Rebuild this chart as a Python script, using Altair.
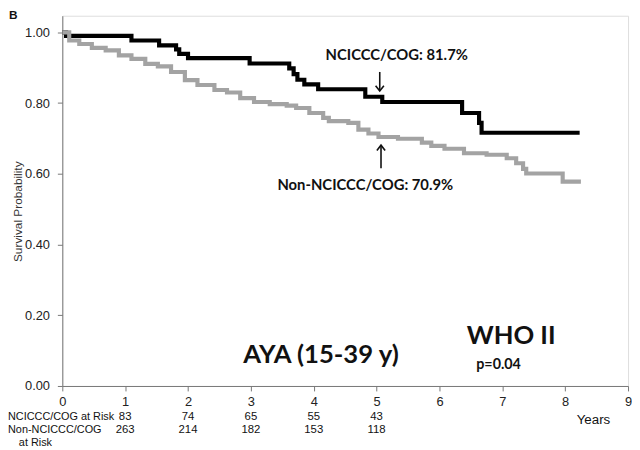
import altair as alt
import pandas as pd

# NCICCC/COG Kaplan-Meier steps
nci_t = [0, 0.06, 1.10, 1.54, 1.81, 1.86, 2.00, 2.98, 3.61, 3.68, 3.74, 3.85, 4.07, 4.82, 5.09, 6.36, 6.63, 6.67, 8.23]
nci_s = [1.00, 0.99, 0.977, 0.963, 0.952, 0.939, 0.927, 0.912, 0.898, 0.882, 0.866, 0.853, 0.839, 0.818, 0.803, 0.772, 0.744, 0.716, 0.716]

# Non-NCICCC/COG Kaplan-Meier steps
non_t = [0.00, 0.11, 0.27, 0.47, 0.69, 0.90, 1.10, 1.32, 1.52, 1.73, 1.95, 2.15, 2.42, 2.62, 2.83,
         3.05, 3.30, 3.57, 3.72, 3.93, 4.15, 4.24, 4.55, 4.71, 4.87, 5.03, 5.34, 5.72, 5.87, 6.08,
         6.39, 6.75, 7.07, 7.22, 7.33, 7.38, 7.92, 7.96, 8.25]
non_s = [1.000, 0.977, 0.967, 0.956, 0.949, 0.935, 0.925, 0.911, 0.904, 0.888, 0.865, 0.851, 0.837, 0.830, 0.814,
         0.803, 0.797, 0.793, 0.786, 0.772, 0.758, 0.749, 0.744, 0.725, 0.714, 0.704, 0.699, 0.688, 0.679, 0.671,
         0.658, 0.654, 0.644, 0.630, 0.614, 0.601, 0.601, 0.578, 0.578]

# Number at risk table
risk_years = [1, 2, 3, 4, 5]
risk_nci = ["83", "74", "65", "55", "43"]
risk_non = ["263", "214", "182", "153", "118"]

x_ticks = [0, 1, 2, 3, 4, 5, 6, 7, 8, 9]
y_ticks = [0.0, 0.2, 0.4, 0.6, 0.8, 1.0]

ANN_FONT = "Lato"
AX_FONT = "Liberation Sans"

xs = alt.Scale(domain=[0, 9], nice=False)
ys = alt.Scale(domain=[0, 1.047], nice=False)

curves = pd.concat([
    pd.DataFrame({"t": nci_t, "s": nci_s, "grp": "NCICCC/COG"}),
    pd.DataFrame({"t": non_t, "s": non_s, "grp": "Non-NCICCC/COG"}),
])

base = alt.Chart(curves).mark_line(interpolate="step-after", strokeWidth=4.2, strokeCap="butt").encode(
    x=alt.X("t:Q", scale=xs, title=None,
            axis=alt.Axis(values=x_ticks, format="d", grid=False, domainColor="#777", tickColor="#777",
                          tickSize=5, labelPadding=5, labelFont=AX_FONT, labelFontSize=13,
                          labelColor="#222", labelFlush=False)),
    y=alt.Y("s:Q", scale=ys,
            axis=alt.Axis(values=y_ticks, format=".2f", grid=False, domainColor="#777", tickColor="#777",
                          tickSize=5, labelPadding=8, labelFont=AX_FONT, labelFontSize=13,
                          labelColor="#222", title="Survival Probability", titleFont=AX_FONT,
                          titleFontSize=12, titleFontWeight="normal", titleColor="#333",
                          titleAngle=-90, titleX=-45, titleY=198, titleAlign="center",
                          titleBaseline="middle")),
    color=alt.Color("grp:N", scale=alt.Scale(domain=["NCICCC/COG", "Non-NCICCC/COG"],
                                             range=["#000000", "#a3a3a3"]), legend=None),
    order=alt.Order("grp:N", sort="descending"),
)


def txt(label, t, s, size, weight="bold", font=ANN_FONT, align="center", baseline="middle"):
    return alt.Chart(pd.DataFrame({"t": [t], "s": [s], "label": [label]})).mark_text(
        font=font, fontSize=size, fontWeight=weight, align=align, baseline=baseline, color="#111"
    ).encode(x=alt.X("t:Q", scale=xs), y=alt.Y("s:Q", scale=ys), text="label:N")


def ptxt(label, px, py, size, weight="normal", font=AX_FONT, align="left", baseline="middle"):
    return alt.Chart(pd.DataFrame({"label": [label]})).mark_text(
        font=font, fontSize=size, fontWeight=weight, align=align, baseline=baseline, color="#111"
    ).encode(x=alt.value(px), y=alt.value(py), text="label:N")


def arrow(t, s_from, s_tip, down=True):
    shaft = alt.Chart(pd.DataFrame({"t": [t], "a": [s_from], "b": [s_tip]})).mark_rule(
        color="#111", strokeWidth=1.6).encode(x=alt.X("t:Q", scale=xs), y=alt.Y("a:Q", scale=ys), y2="b:Q")
    shape = "M-1,-1.3L0,0L1,-1.3" if down else "M-1,1.3L0,0L1,1.3"
    head = alt.Chart(pd.DataFrame({"t": [t], "s": [s_tip]})).mark_point(
        shape=shape, size=70, filled=False, color="#111", strokeWidth=1.6, opacity=1
    ).encode(x=alt.X("t:Q", scale=xs), y=alt.Y("s:Q", scale=ys))
    return shaft + head


risk_df = pd.DataFrame({"t": risk_years, "n1": risk_nci, "n2": risk_non})
risk1 = alt.Chart(risk_df).mark_text(font=AX_FONT, fontSize=11.5, color="#111").encode(
    x=alt.X("t:Q", scale=xs), y=alt.value(406), text="n1:N")
risk2 = alt.Chart(risk_df).mark_text(font=AX_FONT, fontSize=11.5, color="#111").encode(
    x=alt.X("t:Q", scale=xs), y=alt.value(420), text="n2:N")

layers = [
    base,
    txt("NCICCC/COG: 81.7%", 5.32, 0.935, 15),
    arrow(5.05, 0.888, 0.834, down=True),
    txt("Non-NCICCC/COG: 70.9%", 4.82, 0.567, 15),
    arrow(5.07, 0.616, 0.681, down=False),
    txt("AYA (15-39 y)", 4.115, 0.087, 26),
    txt("WHO II", 7.14, 0.142, 26),
    txt("p=0.04", 6.94, 0.059, 14.5),
    ptxt("Years", 538, 410, 13.5, align="center"),
    ptxt("B", -54, 3, 12, weight="bold", baseline="alphabetic"),
    ptxt("NCICCC/COG at Risk", -55, 406, 11),
    ptxt("Non-NCICCC/COG", -55, 420, 11),
    ptxt("at Risk", -44, 433, 11),
    risk1,
    risk2,
]

chart = alt.layer(*layers).properties(
    width=573, height=375,
    padding={"left": 55, "top": 5, "right": 4, "bottom": 62},
    autosize=alt.AutoSizeParams(type="none"),
).configure_view(stroke=None).configure(background="white")

chart.save("out.html", embed_options={"renderer": "svg", "actions": False})
